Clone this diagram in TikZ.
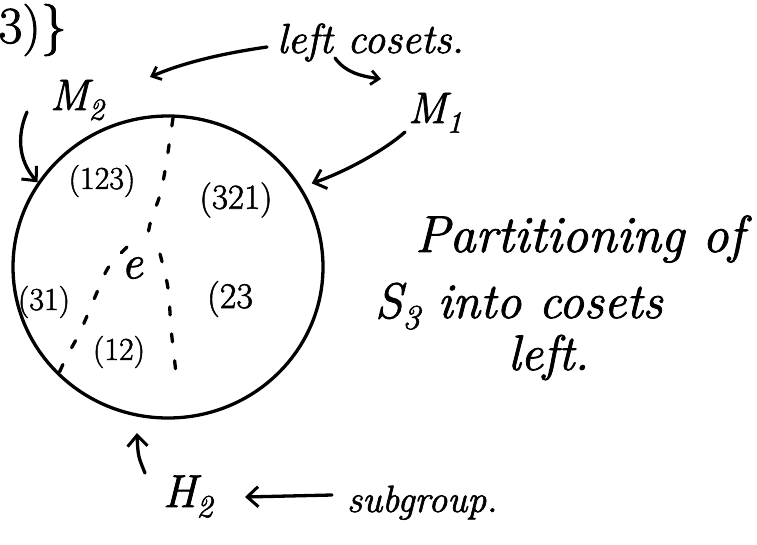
\documentclass[tikz,border=0pt]{standalone}
\usepackage{fontspec}
\usepackage{graphicx}
\usetikzlibrary{shapes.geometric,arrows.meta}
\newfontfamily\pen{Latin Modern Roman}[FakeBold=1.6,ItalicFeatures={FakeBold=1.6}]
\newcommand\lowsub[1]{\raisebox{-0.22em}{\scalebox{0.7}{#1}}}
\begin{document}
\begin{tikzpicture}[x=1pt,y=-1pt,
  ink/.style={line width=3.3pt, line cap=round, line join=round},
  arr/.style={ink, -{Straight Barb[length=11pt,width=20pt,line width=3pt]}},
  smallarr/.style={ink, -{Straight Barb[length=8pt,width=14pt,line width=2.8pt]}},
  cut/.style={ink, dash pattern=on 8pt off 19pt},
  hand/.style={inner sep=0pt, outer sep=0pt, anchor=base west},
  perm/.style={inner sep=0pt, outer sep=0pt, font=\pen\fontsize{32}{38}\selectfont}]
\useasboundingbox (0,0) rectangle (757,544);

% the set S3
\node[ellipse, draw, ink, minimum width=310pt, minimum height=302pt, inner sep=0pt] (S3) at (168,267) {};

% texts
\node[inner sep=0pt, anchor=east, font=\pen\fontsize{52}{60}\selectfont] (frag) at (67,30) {3)\}};
\node[hand, font=\pen\fontsize{42}{50}\selectfont\itshape] (lc) at (277,53) {left cosets.};
\node[hand, font=\pen\fontsize{44}{52}\selectfont\itshape] (M2) at (50,110) {M\lowsub{2}};
\node[hand, font=\pen\fontsize{44}{52}\selectfont\itshape] (M1) at (408,123) {M\lowsub{1}};
\node[hand, font=\pen\fontsize{46}{52}\selectfont\itshape] (H2) at (163,507) {H\lowsub{2}};
\node[hand, font=\pen\fontsize{38}{46}\selectfont\itshape] (sg) at (347,512) {subgroup.};
\node[hand, font=\pen\fontsize{52}{60}\selectfont\itshape] (t1) at (415,252) {Partitioning of};
\node[hand, font=\pen\fontsize{50}{58}\selectfont\itshape] (t2) at (375,318) {S\lowsub{3} into cosets};
\node[hand, font=\pen\fontsize{50}{58}\selectfont\itshape] (t3) at (508,370) {left.};

% elements
\node[perm] (p123) at (102,181) {(123)};
\node[perm, font=\pen\fontsize{35}{42}\selectfont] (p321) at (236,200) {(321)};
\node[inner sep=0pt, font=\pen\fontsize{48}{56}\selectfont\itshape] (pe) at (132,268) {e};
\node[perm] (p31) at (44,302) {(31)};
\node[perm, font=\pen\fontsize{36}{42}\selectfont] (p23) at (230,299) {(23};
\node[perm] (p12) at (119,352) {(12)};

% dashed partition
\coordinate (dtop) at (173,118);
\coordinate (dmid) at (147,240);
\draw[cut] plot[smooth] coordinates {(dtop) (166,165) (160,195) (151,220) (dmid)};
\draw[cut] plot[smooth] coordinates {(127,247) (108,268) (95,297) (80,332) (65,360) (53,387)};
\draw[cut] plot[smooth] coordinates {(160,254) (168,288) (171,328) (174,355) (177,383)};

% arrows from "left cosets."
\coordinate (lcA) at (267,47);
\coordinate (lcAt) at (150,77);
\coordinate (lcB) at (335,58);
\coordinate (lcBt) at (381,79);
\draw[smallarr] (lcA) .. controls (225,53) and (185,62) .. (lcAt);
\draw[smallarr] (lcB) .. controls (345,72) and (360,76) .. (lcBt);

% arrows to the circle
\coordinate (m2s) at (27,112);
\draw[arr] (m2s) .. controls (17,135) and (18,160) .. (S3.147);
\coordinate (m1s) at (405,132);
\draw[arr, shorten >=11pt] (m1s) .. controls (385,150) and (345,172) .. (S3.31);
\coordinate (h2s) at (145,473);
\coordinate (h2t) at (137,433);
\draw[arr] (h2s) .. controls (138,456) .. (h2t);

% subgroup arrow
\coordinate (sgs) at (332,495);
\coordinate (sgt) at (245,497);
\draw[arr] (sgs) -- (sgt);
\end{tikzpicture}
\end{document}
